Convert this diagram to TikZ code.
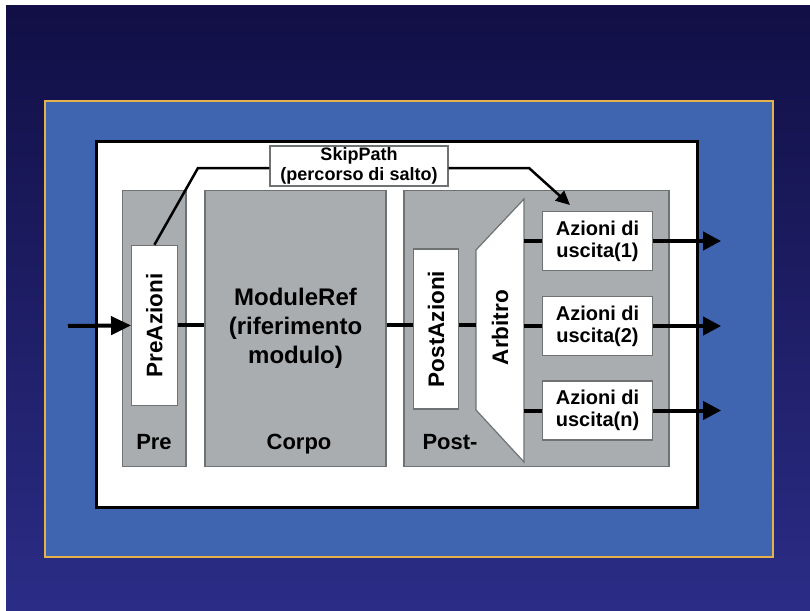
\documentclass[tikz,border=0pt]{standalone}
\usepackage{fontspec}
\setmainfont{Liberation Sans}
\usetikzlibrary{arrows.meta, positioning}
\definecolor{NavyTop}{HTML}{110F45}
\definecolor{NavyBottom}{HTML}{2B2C86}
\definecolor{PanelBlue}{HTML}{3F65B0}
\definecolor{PanelEdge}{HTML}{E3B24A}
\definecolor{StageGray}{HTML}{AAADAF}
\definecolor{StageEdge}{HTML}{6E7272}

\begin{document}
\begin{tikzpicture}[
            x=1pt, y=-1pt,
            >=Triangle,
            panel/.style = {rectangle, fill=PanelBlue, draw=PanelEdge, line width=1.5pt, minimum width=728pt, minimum height=456pt},
            frame/.style = {rectangle, fill=white, draw=black, line width=3pt, minimum width=601pt, minimum height=366pt},
            stage/.style = {rectangle, draw=StageEdge, fill=StageGray, line width=1.2pt, inner sep=0pt, minimum height=276pt, align=center},
            stagename/.style = {anchor=base, font=\fontsize{22}{26}\selectfont\bfseries},
            action/.style = {rectangle, draw=StageEdge, fill=white, line width=1.2pt, inner sep=0pt, align=center, minimum width=110pt, minimum height=59pt, font=\fontsize{20}{22}\selectfont\bfseries},
            vaction/.style = {action, rotate=90, minimum width=160pt, minimum height=45.5pt, font=\fontsize{22.5}{26}\selectfont\bfseries},
            link/.style = {draw, line width=4pt},
            outlink/.style = {link, -{Triangle[length=18pt,width=18pt]}},
            skiplink/.style = {draw, line width=2.5pt}
        ]
            \useasboundingbox (0,0) rectangle (810,610);
            \shade[top color=NavyTop, bottom color=NavyBottom] (6,6) rectangle (810,610);
            \node [panel] (panel) at (409,329) {};
            \node [frame] (frame) at (396.5,324) {};

            % stages
            \node [stage, minimum width=63.6pt] (pre) at (154.2,328.6) {};
            \node [stage, minimum width=181pt, font=\fontsize{24}{29}\selectfont\bfseries] (corpo) at (295.5,328.6) {ModuleRef\\(riferimento\\modulo)};
            \node [stage, minimum width=265pt] (post) at (536.5,328.6) {};
            \node [stagename] (prename) at (154,449) {Pre};
            \node [stagename] (corponame) at (299,449) {Corpo};
            \node [stagename] (postname) at (450,449) {Post-};

            \node [vaction] (preaz) at (154.4,325.4) {PreAzioni};
            \node [vaction] (postaz) at (436,329) {PostAzioni};

            % arbiter
            \coordinate (arbtl) at (476,250);
            \coordinate (arbtr) at (524,199);
            \coordinate (arbbr) at (524,462);
            \coordinate (arbbl) at (476,410);
            \filldraw [fill=white, draw=StageEdge, line width=1.2pt] (arbtl) -- (arbtr) -- (arbbr) -- (arbbl) -- cycle;
            \node [rotate=90, font=\fontsize{22.5}{26}\selectfont\bfseries] (arb) at (500,327.5) {Arbitro};

            \node [action] (az1) at (597.5,241) {Azioni di\\uscita(1)};
            \node [action] (az2) at (597.5,326) {Azioni di\\uscita(2)};
            \node [action] (azn) at (597.5,410.5) {Azioni di\\uscita(n)};
            \node [action, minimum width=178pt, minimum height=40pt, font=\fontsize{18}{19.5}\selectfont\bfseries] (skip) at (359,166) {SkipPath\\(percorso di salto)};

            % main path
            \coordinate (in) at (68,326);
            \draw [link, -{Triangle[length=20pt,width=18pt]}] (in) -- (preaz.north);
            \draw [link] (preaz.south) -- (preaz.south -| corpo.west);
            \draw [link] (corpo.east |- preaz.south) -- (postaz.north |- preaz.south);
            \draw [link] (postaz.south |- preaz.south) -- (arbtl |- preaz.south);
            \draw [link] (arbtr |- az1.west) -- (az1.west);
            \draw [link] (arbtr |- az2.west) -- (az2.west);
            \draw [link] (arbtr |- azn.west) -- (azn.west);
            \coordinate [right=68pt of az1.east] (out1);
            \coordinate [right=68pt of az2.east] (out2);
            \coordinate [right=68pt of azn.east] (outn);
            \draw [outlink] (az1.east) -- (out1);
            \draw [outlink] (az2.east) -- (out2);
            \draw [outlink] (azn.east) -- (outn);

            % skip path
            \coordinate (skipbend) at (198,168);
            \coordinate (skipturn) at (529,168);
            \coordinate (skiptip) at (570,205);
            \draw [skiplink] (preaz.east) -- (skipbend) -- (skipbend -| skip.west);
            \draw [skiplink, -{Triangle[length=14pt,width=13pt]}] (skip.east |- skipturn) -- (skipturn) -- (skiptip);
        \end{tikzpicture}
\end{document}
